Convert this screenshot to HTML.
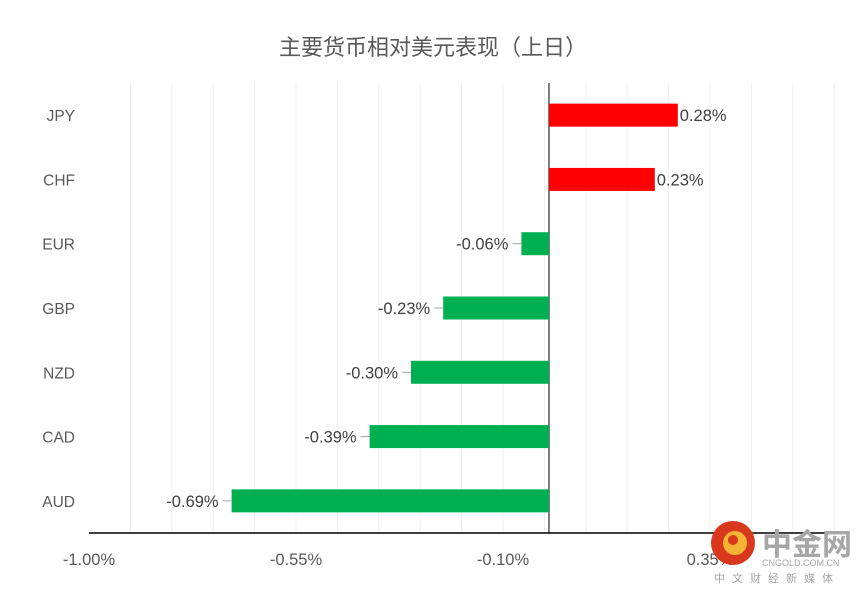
<!DOCTYPE html>
<html><head><meta charset="utf-8"><style>
body{margin:0;background:#fff;}
svg{display:block;font-family:"Liberation Sans","Noto Sans CJK SC",sans-serif;}
</style></head><body>
<svg id="chart" width="867" height="595">
<text x="433" y="55" text-anchor="middle" font-size="22" fill="#595959">主要货币相对美元表现（上日）</text>
<g id="grid"></g><g id="bars"></g><g id="labels"></g>
<g>
<circle cx="733" cy="543" r="22" fill="#d9381e"/>
<circle cx="735" cy="543" r="12" fill="#f5b335"/>
<circle cx="733" cy="540" r="5" fill="#d9381e"/>
<text x="762" y="555" font-size="30" font-weight="bold" fill="#a6a6a6">中金网</text>
<text x="762" y="566" font-size="9" fill="#a6a6a6">CNGOLD.COM.CN</text>
<text x="714" y="582" font-size="11" fill="#a6a6a6" letter-spacing="7">中文财经新媒体</text>
</g>
</svg>
<script>
const categories=["JPY","CHF","EUR","GBP","NZD","CAD","AUD"];
const values=[0.28,0.23,-0.06,-0.23,-0.30,-0.39,-0.69];
const tickValues=[-1.00,-0.55,-0.10,0.35];
const NS="http://www.w3.org/2000/svg";
const x0=89,pxPer=460,xMin=-1.0,plotTop=83,plotBot=533;
const xs=v=>x0+(v-xMin)*pxPer;
const band=(plotBot-plotTop)/categories.length;
const yc=i=>plotTop+band*(i+0.5);
function mk(t,a,p){const e=document.createElementNS(NS,t);for(const k in a)e.setAttribute(k,a[k]);p.appendChild(e);return e;}
const grid=document.getElementById('grid'),bars=document.getElementById('bars'),labels=document.getElementById('labels');
for(let k=1;k<=18;k++){const gx=xs(xMin+0.09*k);const l=mk('line',{x1:gx,x2:gx,y1:plotTop,y2:plotBot,stroke:'#efefef','stroke-width':1},grid);

}
const ax=mk('line',{x1:x0,x2:825,y1:plotBot,y2:plotBot,stroke:'#000','stroke-width':1.5},grid);


const zl=mk('line',{x1:xs(0),x2:xs(0),y1:plotTop,y2:plotBot,stroke:'#000','stroke-width':1},grid);


tickValues.forEach(v=>{const t=mk('text',{x:xs(v),y:565,'text-anchor':'middle','font-size':16.5,fill:'#595959'},labels);
t.textContent=v.toFixed(2)+'%';

});
categories.forEach((c,i)=>{const y=yc(i),v=values[i];
const t=mk('text',{x:75,y:y+6,'text-anchor':'end','font-size':15.5,fill:'#595959'},labels);
t.textContent=c;


const a=xs(Math.min(0,v)),b=xs(Math.max(0,v));
const r=mk('rect',{x:a,y:y-11.5,width:b-a,height:23,fill:v>=0?'#ff0000':'#00b050'},bars);


const lbl=mk('text',{x:v>=0?b+2:a-13,y:y+6,'text-anchor':v>=0?'start':'end','font-size':16.5,fill:'#404040'},labels);
lbl.textContent=v.toFixed(2)+'%';


if(v<0){const ld=mk('line',{x1:a-9,x2:a,y1:y,y2:y,stroke:'#a6a6a6'},labels);

}
});
</script>
</body></html>
